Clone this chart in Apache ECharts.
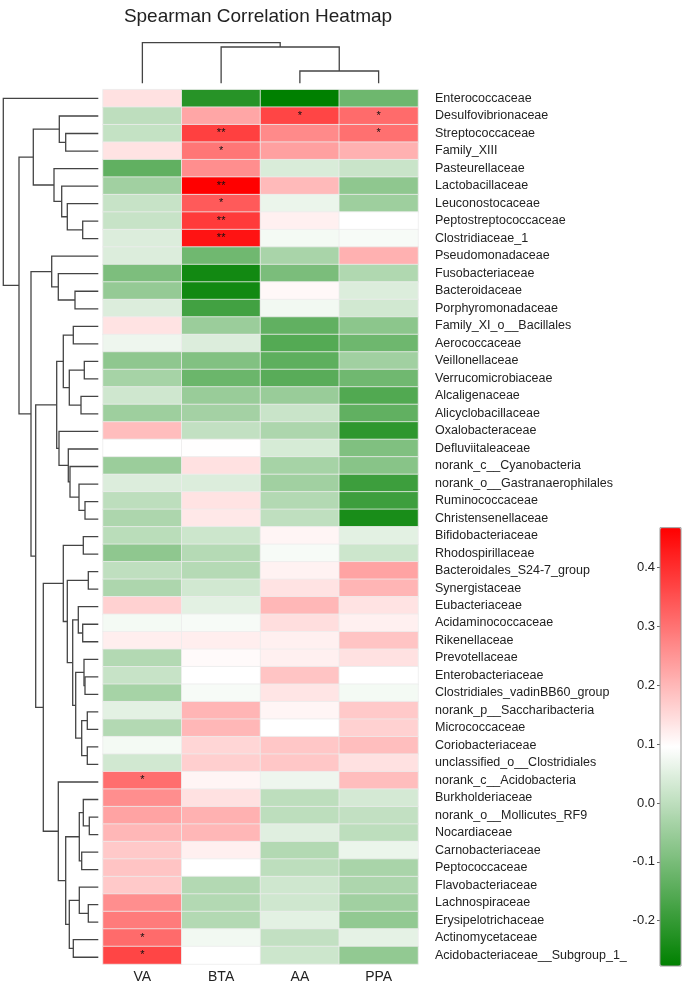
<!DOCTYPE html>
<html>
<head>
<meta charset="utf-8">
<script src="https://cdn.jsdelivr.net/npm/echarts@6/dist/echarts.min.js"></script>
<style>html,body{margin:0;padding:0;background:#fff}#c{width:685px;height:984px}</style>
</head>
<body>
<div id="c"></div>
<script>
const rows = ['Enterococcaceae','Desulfovibrionaceae','Streptococcaceae','Family_XIII','Pasteurellaceae','Lactobacillaceae','Leuconostocaceae','Peptostreptococcaceae','Clostridiaceae_1','Pseudomonadaceae','Fusobacteriaceae','Bacteroidaceae','Porphyromonadaceae','Family_XI_o__Bacillales','Aerococcaceae','Veillonellaceae','Verrucomicrobiaceae','Alcaligenaceae','Alicyclobacillaceae','Oxalobacteraceae','Defluviitaleaceae','norank_c__Cyanobacteria','norank_o__Gastranaerophilales','Ruminococcaceae','Christensenellaceae','Bifidobacteriaceae','Rhodospirillaceae','Bacteroidales_S24-7_group','Synergistaceae','Eubacteriaceae','Acidaminococcaceae','Rikenellaceae','Prevotellaceae','Enterobacteriaceae','Clostridiales_vadinBB60_group','norank_p__Saccharibacteria','Micrococcaceae','Coriobacteriaceae','unclassified_o__Clostridiales','norank_c__Acidobacteria','Burkholderiaceae','norank_o__Mollicutes_RF9','Nocardiaceae','Carnobacteriaceae','Peptococcaceae','Flavobacteriaceae','Lachnospiraceae','Erysipelotrichaceae','Actinomycetaceae','Acidobacteriaceae__Subgroup_1_'];
const cols = ['VA','BTA','AA','PPA'];

const valVA = [0.14,0.0,0.01,0.137,-0.135,-0.042,0.013,0.013,0.044,0.044,-0.095,-0.06,0.044,0.137,0.07,-0.068,-0.035,0.025,-0.046,0.192,0.095,-0.05,0.044,-0.001,-0.024,-0.005,-0.068,0.002,-0.024,0.163,0.08,0.12,-0.016,0.013,-0.035,0.055,-0.016,0.08,0.028,0.308,0.26,0.23,0.2,0.174,0.181,0.174,0.26,0.289,0.312,0.367];
const valBTA = [-0.22,0.226,0.375,0.296,0.26,0.468,0.337,0.383,0.44,-0.113,-0.25,-0.25,-0.18,-0.05,0.044,-0.087,-0.12,-0.053,-0.038,0.006,0.097,0.14,0.044,0.137,0.129,0.021,-0.013,-0.013,0.028,0.055,0.084,0.12,0.103,0.095,0.084,0.204,0.2,0.155,0.166,0.11,0.14,0.21,0.2,0.118,0.095,-0.016,-0.016,-0.016,0.077,0.095];
const valAA = [-0.277,0.367,0.267,0.234,0.04,0.196,0.066,0.118,0.08,-0.03,-0.098,0.106,0.077,-0.135,-0.154,-0.139,-0.147,-0.053,0.017,-0.024,0.036,-0.035,-0.042,-0.016,0.002,0.11,0.084,0.114,0.137,0.2,0.144,0.118,0.118,0.181,0.133,0.11,0.095,0.178,0.178,0.07,-0.001,-0.001,0.05,-0.016,-0.001,0.025,0.025,0.055,0.006,0.021];
const valPPA = [-0.117,0.312,0.305,0.21,0.017,-0.068,-0.046,0.095,0.084,0.21,-0.02,0.044,0.029,-0.072,-0.117,-0.042,-0.113,-0.158,-0.135,-0.21,-0.09,-0.079,-0.188,-0.188,-0.24,0.055,0.021,0.23,0.204,0.137,0.118,0.181,0.14,0.095,0.08,0.174,0.163,0.19,0.14,0.192,0.032,0.006,-0.001,0.066,-0.03,-0.024,-0.042,-0.064,0.058,-0.064];

// significance marks: [row, column, mark]
const stars = [[1,2,'*'],[1,3,'*'],[2,1,'**'],[2,3,'*'],[3,1,'*'],[5,1,'**'],[6,1,'*'],[7,1,'**'],[8,1,'**'],[39,0,'*'],[48,0,'*'],[49,0,'*']];

const colorMin = -0.277, colorMax = 0.468;

// dendrograms: node = [height, left, right]; leaf = row/column index
const rowTree = [95, 0, [79.3,
  [65, [39, 1, [32.6, 2, 3]], [44.3, 4, [36.6, 5, [31, 6, [15.6, 7, 8]]]]],
  [67.3,
    [46.6, 9, [40, 10, [23.3, 11, 12]]],
    [62.6,
      [41.6,
        [35, [25, 13, 14], [29, [14, 15, 16], [17.3, 17, 18]]],
        [39.3, 19, [30, 20, [28.3, 21, [19.3, 22, [13.3, 23, 24]]]]]],
      [55,
        [35, [15, 25, 26], [31, [10, 27, 28], [25.6, [20, 29, [15.6, 30, 31]], [22.6, [14.3, 32, [13.3, 33, 34]], [16.6, [11, 35, 36], [11, 37, 38]]]]]],
        [40, 39, [32.6, [19, [15, 40, [9, 41, 42]], [16.6, 43, 44]], [29, [19, 45, [10, 46, 47]], [25, 48, 49]]]]]]]]];
const colTree = [40.6, 0, [36.3, 1, [12.3, 2, 3]]];

function dendro(node, segs, swap) {
  if (typeof node === 'number') return {pos: node, h: 0};
  const a = dendro(node[1], segs, swap), b = dendro(node[2], segs, swap), h = node[0];
  let pts = [[a.h, a.pos], [h, a.pos], [h, b.pos], [b.h, b.pos]];
  if (swap) pts = pts.map(p => [p[1], p[0]]);
  segs.push({coords: pts});
  return {pos: (a.pos + b.pos) / 2, h: h};
}
const rowSegs = [], colSegs = [];
dendro(rowTree, rowSegs, false);
dendro(colTree, colSegs, true);

const allVals = [valVA, valBTA, valAA, valPPA];
const starMap = {};
stars.forEach(s => { starMap[s[0] + '_' + s[1]] = s[2]; });
const heatData = [];
allVals.forEach((arr, c) => arr.forEach((v, r) => heatData.push([c, r, v])));

const FONT = 'Liberation Sans, Arial, Helvetica, sans-serif';
const HM = {left: 103, top: 89.7, width: 315, height: 876.3};
const lineStyle = {color: '#444', width: 1.3, opacity: 1};

const chart = echarts.init(document.getElementById('c'), null, {renderer: 'canvas'});
chart.setOption({
  animation: false,
  backgroundColor: '#fff',
  textStyle: {fontFamily: FONT},
  title: {text: 'Spearman Correlation Heatmap', left: 253, top: 2, textAlign: 'center',
    textStyle: {fontSize: 19, fontWeight: 'normal', color: '#222', fontFamily: FONT}},
  grid: [
    {left: HM.left, top: HM.top, width: HM.width, height: HM.height},
    {left: 3.3, top: HM.top, width: 95, height: HM.height},
    {left: HM.left, top: 42.7, width: HM.width, height: 40.6},
    {left: 660, top: 527.7, width: 21, height: 438.3, show: true, borderColor: '#999', borderWidth: 1, backgroundColor: 'transparent', z: 10}
  ],
  xAxis: [
    {gridIndex: 0, type: 'category', data: cols, position: 'bottom',
      axisLine: {show: false}, axisTick: {show: false}, splitLine: {show: false},
      axisLabel: {fontSize: 14, color: '#222', margin: 6, fontFamily: FONT}},
    {gridIndex: 1, type: 'value', min: 0, max: 95, inverse: true, show: false},
    {gridIndex: 2, type: 'value', min: -0.5, max: 3.5, show: false},
    {gridIndex: 3, type: 'value', min: 0, max: 1, show: false}
  ],
  yAxis: [
    {gridIndex: 0, type: 'category', data: rows, inverse: true, position: 'right',
      axisLine: {show: false}, axisTick: {show: false}, splitLine: {show: false},
      axisLabel: {fontSize: 12.5, color: '#222', margin: 17, fontFamily: FONT}},
    {gridIndex: 1, type: 'value', min: -0.5, max: 49.5, inverse: true, show: false},
    {gridIndex: 2, type: 'value', min: 0, max: 40.6, show: false},
    {gridIndex: 3, type: 'value', min: colorMin, max: colorMax, position: 'left', splitNumber: 7,
      axisLine: {show: false}, splitLine: {show: false},
      axisTick: {show: true, length: 3, lineStyle: {color: '#666'}},
      axisLabel: {fontSize: 13, color: '#222', margin: 5, showMinLabel: false, showMaxLabel: false, fontFamily: FONT,
        formatter: v => v.toFixed(1)}}
  ],
  visualMap: {
    type: 'continuous', min: colorMin, max: colorMax, seriesIndex: 0,
    orient: 'vertical', left: 660, top: 527.7, itemWidth: 21, itemHeight: 438.3,
    padding: 0, calculable: false, hoverLink: false, text: null, showLabel: false,
    inRange: {color: ['#008000', '#ffffff', '#ff0000']}
  },
  series: [
    {type: 'heatmap', xAxisIndex: 0, yAxisIndex: 0, data: heatData, progressive: 0,
      itemStyle: {borderColor: '#ececec', borderWidth: 0.8},
      label: {show: true, color: '#111', fontSize: 11, fontFamily: FONT,
        formatter: p => starMap[p.data[1] + '_' + p.data[0]] || ''},
      emphasis: {disabled: true}},
    {type: 'lines', coordinateSystem: 'cartesian2d', xAxisIndex: 1, yAxisIndex: 1, polyline: true,
      silent: true, lineStyle: lineStyle, data: rowSegs},
    {type: 'lines', coordinateSystem: 'cartesian2d', xAxisIndex: 2, yAxisIndex: 2, polyline: true,
      silent: true, lineStyle: lineStyle, data: colSegs}
  ]
});
</script>
</body>
</html>
